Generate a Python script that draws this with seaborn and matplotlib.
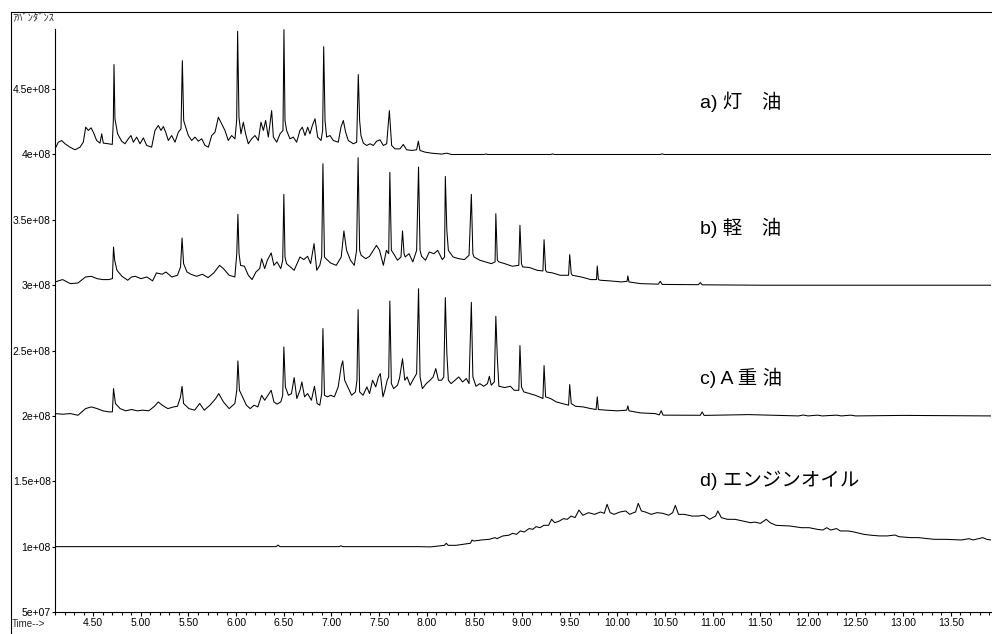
import matplotlib
matplotlib.use("Agg")
import matplotlib.pyplot as plt
from matplotlib.lines import Line2D
from matplotlib.ticker import FixedLocator, MultipleLocator
import pandas as pd
import seaborn as sns

# ---------------- data (abundance in units of 1e8) ----------------
UNIT = 1e8

sample_keys = ["a", "b", "c", "d"]
sample_labels = ["a) 灯\u3000油", "b) 軽\u3000油", "c) A 重 油", "d) エンジンオイル"]
label_times = [10.87, 10.87, 10.87, 10.87]
label_levels = [4.405, 3.435, 2.288, 1.509]

a_time = [4.100,4.135,4.170,4.205,4.257,4.310,4.362,4.397,4.422,4.450,
          4.478,4.502,4.537,4.572,4.590,4.607,4.660,4.701,4.712,4.719,
          4.729,4.757,4.799,4.834,4.869,4.897,4.922,4.957,4.992,5.027,
          5.062,5.114,5.149,5.184,5.212,5.237,5.261,5.289,5.324,5.359,
          5.394,5.422,5.436,5.450,5.471,5.499,5.534,5.569,5.604,5.639,
          5.674,5.709,5.744,5.779,5.814,5.849,5.883,5.918,5.953,5.988,
          6.006,6.016,6.030,6.051,6.076,6.100,6.128,6.163,6.198,6.233,
          6.261,6.286,6.310,6.338,6.373,6.391,6.426,6.461,6.492,6.502,
          6.513,6.530,6.565,6.600,6.635,6.670,6.695,6.723,6.751,6.775,
          6.800,6.828,6.856,6.891,6.908,6.919,6.933,6.950,6.985,7.020,
          7.072,7.100,7.125,7.149,7.177,7.230,7.265,7.282,7.296,7.310,
          7.335,7.370,7.405,7.440,7.475,7.510,7.545,7.580,7.608,7.632,
          7.667,7.719,7.754,7.789,7.842,7.894,7.912,7.929,7.982,8.052,
          8.157,8.209,8.262,8.471,8.600,8.620,8.640,9.300,9.320,9.340,
          10.450,10.470,10.490,13.920]
a_abund = [4.043,4.094,4.107,4.082,4.056,4.036,4.056,4.094,4.209,4.184,
           4.204,4.171,4.107,4.087,4.158,4.087,4.082,4.077,4.260,4.688,
           4.273,4.158,4.102,4.082,4.120,4.145,4.094,4.133,4.082,4.127,
           4.069,4.056,4.184,4.222,4.184,4.214,4.171,4.107,4.145,4.094,
           4.171,4.196,4.718,4.260,4.209,4.145,4.107,4.133,4.102,4.120,
           4.069,4.056,4.145,4.171,4.285,4.234,4.184,4.107,4.145,4.120,
           4.260,4.942,4.285,4.158,4.247,4.158,4.082,4.120,4.145,4.107,
           4.247,4.184,4.260,4.133,4.336,4.133,4.094,4.158,4.184,4.955,
           4.260,4.184,4.120,4.133,4.094,4.184,4.209,4.145,4.209,4.158,
           4.222,4.273,4.133,4.107,4.184,4.825,4.260,4.133,4.145,4.107,
           4.094,4.209,4.260,4.171,4.107,4.082,4.094,4.611,4.260,4.145,
           4.087,4.069,4.082,4.069,4.102,4.112,4.069,4.082,4.336,4.069,
           4.043,4.043,4.077,4.036,4.031,4.036,4.102,4.031,4.018,4.010,
           4.003,4.010,4.000,4.000,4.000,4.004,4.000,4.000,4.004,4.000,
           4.000,4.005,4.000,4.000]

b_time = [4.100,4.180,4.261,4.341,4.421,4.481,4.542,4.602,4.662,4.702,
          4.714,4.726,4.750,4.803,4.863,4.903,4.943,5.003,5.064,5.124,
          5.164,5.224,5.264,5.325,5.385,5.417,5.433,5.449,5.485,5.525,
          5.586,5.646,5.706,5.766,5.826,5.867,5.927,5.987,6.007,6.019,
          6.031,6.047,6.087,6.128,6.168,6.208,6.248,6.268,6.300,6.328,
          6.368,6.397,6.429,6.469,6.489,6.501,6.513,6.529,6.569,6.609,
          6.670,6.710,6.750,6.782,6.818,6.846,6.878,6.898,6.911,6.927,
          6.943,6.991,7.051,7.103,7.131,7.159,7.200,7.240,7.264,7.280,
          7.296,7.312,7.360,7.400,7.440,7.473,7.505,7.545,7.577,7.601,
          7.613,7.629,7.653,7.693,7.730,7.746,7.762,7.774,7.814,7.854,
          7.894,7.914,7.930,7.946,7.987,8.027,8.075,8.115,8.163,8.187,
          8.195,8.211,8.227,8.276,8.336,8.396,8.444,8.468,8.484,8.496,
          8.557,8.617,8.677,8.717,8.725,8.741,8.757,8.818,8.898,8.966,
          8.978,8.994,9.006,9.079,9.159,9.219,9.231,9.247,9.259,9.320,
          9.400,9.488,9.500,9.516,9.528,9.621,9.721,9.781,9.789,9.801,
          9.821,9.922,10.042,10.102,10.110,10.122,10.243,10.430,10.450,10.470,
          10.850,10.870,10.890,11.500,13.920]
b_abund = [3.025,3.043,3.012,3.017,3.063,3.068,3.050,3.043,3.043,3.050,
           3.292,3.191,3.114,3.068,3.038,3.063,3.068,3.050,3.063,3.033,
           3.094,3.084,3.101,3.063,3.076,3.140,3.361,3.165,3.101,3.084,
           3.068,3.084,3.058,3.094,3.152,3.127,3.076,3.063,3.241,3.542,
           3.241,3.152,3.145,3.076,3.043,3.101,3.127,3.203,3.127,3.191,
           3.247,3.152,3.178,3.127,3.191,3.695,3.216,3.165,3.140,3.114,
           3.216,3.196,3.221,3.165,3.318,3.114,3.152,3.216,3.929,3.216,
           3.203,3.170,3.152,3.216,3.415,3.267,3.191,3.152,3.267,3.975,
           3.267,3.229,3.203,3.221,3.267,3.305,3.267,3.152,3.267,3.241,
           3.863,3.267,3.241,3.191,3.216,3.415,3.241,3.216,3.241,3.178,
           3.267,3.904,3.267,3.221,3.191,3.254,3.241,3.267,3.196,3.216,
           3.832,3.420,3.267,3.216,3.203,3.196,3.229,3.695,3.241,3.216,
           3.191,3.178,3.165,3.178,3.547,3.191,3.178,3.165,3.145,3.152,
           3.458,3.165,3.140,3.135,3.114,3.109,3.348,3.114,3.101,3.094,
           3.076,3.076,3.234,3.089,3.076,3.063,3.043,3.043,3.147,3.043,
           3.038,3.033,3.025,3.030,3.071,3.025,3.012,3.008,3.030,3.006,
           3.004,3.020,3.003,3.000,3.000]

c_time = [4.100,4.180,4.261,4.341,4.421,4.481,4.542,4.602,4.662,4.702,
          4.714,4.734,4.783,4.843,4.903,4.963,5.023,5.084,5.144,5.184,
          5.224,5.284,5.345,5.385,5.417,5.433,5.449,5.505,5.565,5.618,
          5.666,5.726,5.786,5.818,5.867,5.927,5.987,6.007,6.019,6.035,
          6.067,6.108,6.148,6.188,6.228,6.268,6.300,6.328,6.368,6.397,
          6.429,6.469,6.489,6.501,6.517,6.549,6.581,6.609,6.637,6.670,
          6.690,6.718,6.750,6.790,6.822,6.850,6.878,6.898,6.911,6.927,
          6.959,6.991,7.031,7.071,7.103,7.119,7.139,7.171,7.212,7.252,
          7.268,7.280,7.296,7.332,7.372,7.400,7.432,7.465,7.493,7.513,
          7.541,7.561,7.585,7.601,7.613,7.629,7.653,7.693,7.714,7.746,
          7.770,7.794,7.826,7.854,7.894,7.914,7.930,7.954,7.995,8.035,
          8.067,8.095,8.123,8.155,8.179,8.195,8.211,8.227,8.255,8.296,
          8.336,8.376,8.416,8.444,8.468,8.484,8.517,8.557,8.597,8.637,
          8.657,8.677,8.709,8.725,8.741,8.757,8.818,8.878,8.918,8.966,
          8.978,8.994,9.018,9.079,9.139,9.199,9.219,9.231,9.247,9.299,
          9.360,9.420,9.488,9.500,9.516,9.560,9.641,9.721,9.777,9.789,
          9.801,9.882,10.002,10.098,10.110,10.122,10.243,10.396,10.440,10.460,
          10.480,10.870,10.890,10.910,11.380,11.900,11.950,12.000,12.100,12.150,
          12.300,12.350,12.450,12.500,13.000,13.920]
c_abund = [2.018,2.013,2.018,2.005,2.056,2.069,2.056,2.039,2.031,2.031,
           2.209,2.095,2.056,2.039,2.049,2.039,2.044,2.039,2.074,2.107,
           2.082,2.056,2.069,2.074,2.146,2.227,2.095,2.056,2.044,2.095,
           2.044,2.082,2.133,2.171,2.107,2.056,2.095,2.196,2.421,2.196,
           2.146,2.082,2.056,2.082,2.069,2.158,2.120,2.151,2.196,2.107,
           2.090,2.107,2.158,2.528,2.222,2.158,2.171,2.293,2.133,2.196,
           2.260,2.146,2.171,2.120,2.227,2.095,2.082,2.171,2.668,2.158,
           2.146,2.158,2.146,2.222,2.380,2.421,2.273,2.222,2.158,2.184,
           2.273,2.813,2.184,2.158,2.222,2.171,2.273,2.222,2.298,2.324,
           2.146,2.196,2.273,2.298,2.879,2.247,2.209,2.235,2.286,2.438,
           2.273,2.298,2.235,2.273,2.324,2.973,2.298,2.209,2.247,2.273,
           2.298,2.362,2.273,2.273,2.298,2.905,2.477,2.273,2.247,2.273,
           2.298,2.260,2.286,2.247,2.869,2.298,2.227,2.247,2.227,2.247,
           2.303,2.235,2.260,2.762,2.438,2.227,2.217,2.227,2.196,2.196,
           2.538,2.222,2.184,2.171,2.158,2.140,2.133,2.385,2.146,2.133,
           2.107,2.095,2.082,2.240,2.095,2.074,2.069,2.056,2.049,2.146,
           2.049,2.044,2.039,2.044,2.077,2.039,2.023,2.018,2.008,2.040,
           2.006,2.005,2.030,2.004,2.010,2.000,2.007,2.000,2.006,2.000,
           2.006,2.000,2.006,2.000,2.004,2.000]

d_time = [4.100,6.420,6.440,6.460,7.080,7.100,7.120,7.509,7.918,8.041,
          8.185,8.205,8.225,8.307,8.459,8.475,8.492,8.573,8.655,8.717,
          8.737,8.799,8.860,8.901,8.942,8.983,9.024,9.073,9.114,9.147,
          9.188,9.228,9.278,9.310,9.343,9.392,9.433,9.474,9.515,9.556,
          9.597,9.638,9.699,9.761,9.822,9.863,9.892,9.924,9.965,10.027,
          10.088,10.129,10.170,10.191,10.219,10.252,10.293,10.354,10.416,10.477,
          10.539,10.580,10.608,10.641,10.702,10.784,10.846,10.907,10.968,11.030,
          11.054,11.091,11.153,11.235,11.316,11.398,11.439,11.501,11.562,11.603,
          11.665,11.808,11.931,12.012,12.094,12.156,12.197,12.238,12.299,12.340,
          12.422,12.483,12.586,12.667,12.749,12.831,12.913,12.954,13.077,13.159,
          13.322,13.445,13.609,13.691,13.732,13.834,13.875,13.920]
d_abund = [1.000,1.000,1.012,1.000,1.000,1.006,1.000,1.000,1.000,0.998,
           1.010,1.026,1.010,1.010,1.026,1.051,1.043,1.051,1.056,1.069,
           1.061,1.082,1.087,1.102,1.094,1.120,1.112,1.138,1.133,1.153,
           1.145,1.163,1.163,1.209,1.183,1.196,1.214,1.209,1.234,1.222,
           1.280,1.240,1.260,1.247,1.265,1.255,1.324,1.260,1.247,1.265,
           1.273,1.247,1.260,1.265,1.331,1.273,1.265,1.247,1.260,1.255,
           1.240,1.260,1.316,1.247,1.247,1.234,1.234,1.240,1.209,1.234,
           1.273,1.222,1.209,1.209,1.196,1.183,1.188,1.178,1.209,1.183,
           1.163,1.158,1.145,1.145,1.133,1.127,1.145,1.127,1.138,1.120,
           1.120,1.112,1.094,1.087,1.082,1.082,1.089,1.076,1.069,1.069,
           1.056,1.056,1.051,1.061,1.051,1.069,1.056,1.051]

x_tick_values = [4.5, 5.0, 5.5, 6.0, 6.5, 7.0, 7.5, 8.0, 8.5, 9.0,
                 9.5, 10.0, 10.5, 11.0, 11.5, 12.0, 12.5, 13.0, 13.5]
x_tick_labels = ["4.50", "5.00", "5.50", "6.00", "6.50", "7.00", "7.50",
                 "8.00", "8.50", "9.00", "9.50", "10.00", "10.50", "11.00",
                 "11.50", "12.00", "12.50", "13.00", "13.50"]
y_tick_values = [0.5, 1.0, 1.5, 2.0, 2.5, 3.0, 3.5, 4.0, 4.5]
y_tick_labels = ["5e+07", "1e+08", "1.5e+08", "2e+08", "2.5e+08",
                 "3e+08", "3.5e+08", "4e+08", "4.5e+08"]

# ---------------- build table ----------------
frames = []
for key, t, v in zip(sample_keys,
                     [a_time, b_time, c_time, d_time],
                     [a_abund, b_abund, c_abund, d_abund]):
    frames.append(pd.DataFrame({"time": t,
                                "abundance": [x * UNIT for x in v],
                                "sample": key}))
df = pd.concat(frames, ignore_index=True)

# ---------------- style ----------------
sns.set_theme(style="white")
plt.rcParams["font.family"] = ["Liberation Sans", "Noto Sans CJK JP", "DejaVu Sans"]
plt.rcParams["axes.linewidth"] = 0.8

fig = plt.figure(figsize=(9.92, 6.34), dpi=100)
ax = fig.add_axes([55 / 992, 22 / 634, 936 / 992, 583 / 634])

sns.lineplot(data=df, x="time", y="abundance", hue="sample",
             palette=["black"] * 4, estimator=None, sort=False,
             legend=False, linewidth=0.75, ax=ax)

ax.set_xlim(4.10, 13.92)
ax.set_ylim(0.5 * UNIT, 4.96 * UNIT)
ax.set_xlabel("")
ax.set_ylabel("")

for side in ["top", "right"]:
    ax.spines[side].set_visible(False)
for side in ["left", "bottom"]:
    ax.spines[side].set_color("black")
    ax.spines[side].set_linewidth(0.8)

ax.xaxis.set_major_locator(FixedLocator(x_tick_values))
ax.set_xticklabels(x_tick_labels)
ax.xaxis.set_minor_locator(MultipleLocator(0.1))
ax.yaxis.set_major_locator(FixedLocator([y * UNIT for y in y_tick_values]))
ax.set_yticklabels(y_tick_labels)

ax.tick_params(axis="x", which="major", direction="out", length=3.2,
               width=0.8, color="black", labelsize=7.5, pad=1.2,
               labelcolor="black", bottom=True)
ax.tick_params(axis="x", which="minor", direction="out", length=2.0,
               width=0.8, color="black", bottom=True)
ax.tick_params(axis="y", which="major", direction="out", length=2.0,
               width=0.8, color="black", labelsize=7.5, pad=1.0,
               labelcolor="black", left=True)

for t, lv, lab in zip(label_times, label_levels, sample_labels):
    ax.text(t, lv * UNIT, lab, fontsize=14, ha="left", va="center",
            color="black")

# outer frame and corner texts
fig.add_artist(Line2D([11 / 992, 11 / 992], [0, 1 - 12 / 634],
                      transform=fig.transFigure, color="black", lw=0.8))
fig.add_artist(Line2D([11 / 992, 1], [1 - 12 / 634, 1 - 12 / 634],
                      transform=fig.transFigure, color="black", lw=0.8))
fig.text(12 / 992, 1 - 18 / 634, "ｱﾊﾞﾝﾀﾞﾝｽ", fontsize=7.5, ha="left",
         va="center", family=["Noto Sans CJK JP", "DejaVu Sans"])
fig.text(12 / 992, 1 - 619 / 634, "Time-->", fontsize=7, ha="left",
         va="top")

fig.savefig("out.png", dpi=100)
